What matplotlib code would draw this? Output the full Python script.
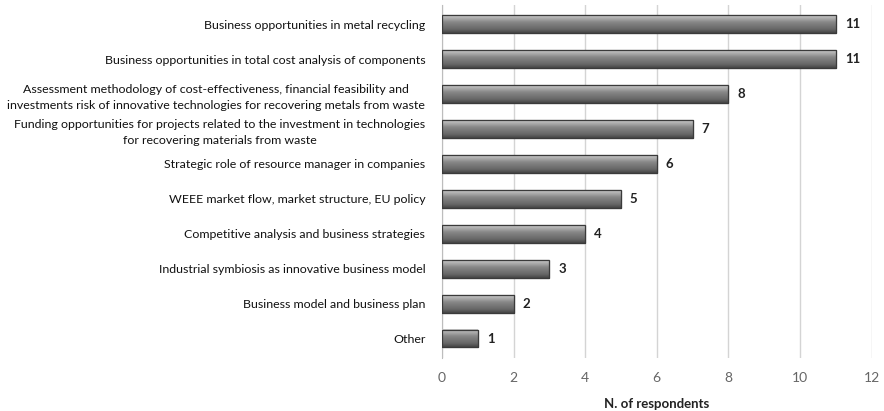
import numpy as np
import matplotlib
matplotlib.use("Agg")
import matplotlib.pyplot as plt
from matplotlib.colors import LinearSegmentedColormap

plt.rcParams['font.family'] = ['Lato', 'DejaVu Sans']

categories = [
    "Business opportunities in metal recycling",
    "Business opportunities in total cost analysis of components",
    "Assessment methodology of cost-effectiveness, financial feasibility and\ninvestments risk of innovative technologies for recovering metals from waste",
    "Funding opportunities for projects related to the investment in technologies\nfor recovering materials from waste",
    "Strategic role of resource manager in companies",
    "WEEE market flow, market structure, EU policy",
    "Competitive analysis and business strategies",
    "Industrial symbiosis as innovative business model",
    "Business model and business plan",
    "Other",
]
respondents = [11, 11, 8, 7, 6, 5, 4, 3, 2, 1]
xticks = [0, 2, 4, 6, 8, 10, 12]

fig = plt.figure(figsize=(8.84, 4.11), dpi=100)
ax = fig.add_axes([0.5, 0.129, 0.486, 0.859])

n = len(categories)
ypos = np.arange(n)[::-1]
bar_h = 0.5

# bevelled grey fill: light top highlight fading into darker lower half
shade = LinearSegmentedColormap.from_list(
    "bevel", [(0.0, "#454545"), (0.2, "#666666"), (0.6, "#868686"),
              (0.85, "#b0b0b0"), (1.0, "#cccccc")])
grad = np.linspace(0, 1, 64).reshape(-1, 1)

bars = ax.barh(ypos, respondents, height=bar_h, color="#8a8a8a",
               edgecolor="#3c3c3c", linewidth=0.8, zorder=3)
for b in bars:
    x0, y0 = b.get_x(), b.get_y()
    w, h = b.get_width(), b.get_height()
    ax.imshow(grad, extent=(x0, x0 + w, y0, y0 + h), origin="lower",
              cmap=shade, aspect="auto", zorder=3.5, interpolation="bilinear")
    ax.add_patch(plt.Rectangle((x0, y0), w, h, fill=False,
                               edgecolor="#3a3a3a", linewidth=0.9, zorder=4))
    ax.text(x0 + w + 0.25, y0 + h / 2, f"{int(w)}", va="center", ha="left",
            fontsize=9.5, fontweight="bold", color="#222222")

ax.set_xlim(0, 12)
ax.set_ylim(-0.55, n - 0.45)
ax.set_xticks(xticks)
ax.set_xticklabels([str(t) for t in xticks], color="#666666", fontsize=10)
ax.set_yticks(ypos)
ax.set_yticklabels(categories, fontsize=8.9, color="#111111",
                   multialignment="center", linespacing=1.55)
ax.tick_params(axis="both", length=0)
ax.tick_params(axis="y", pad=12)
ax.tick_params(axis="x", pad=10)
ax.grid(axis="x", color="#d4d4d4", linewidth=1, zorder=0)
for s in ["top", "right", "bottom"]:
    ax.spines[s].set_visible(False)
ax.spines["left"].set_color("#bdbdbd")
ax.set_xlabel("N. of respondents", fontsize=9.5, fontweight="bold",
              color="#222222", labelpad=10)

fig.savefig("out.png", dpi=100)
